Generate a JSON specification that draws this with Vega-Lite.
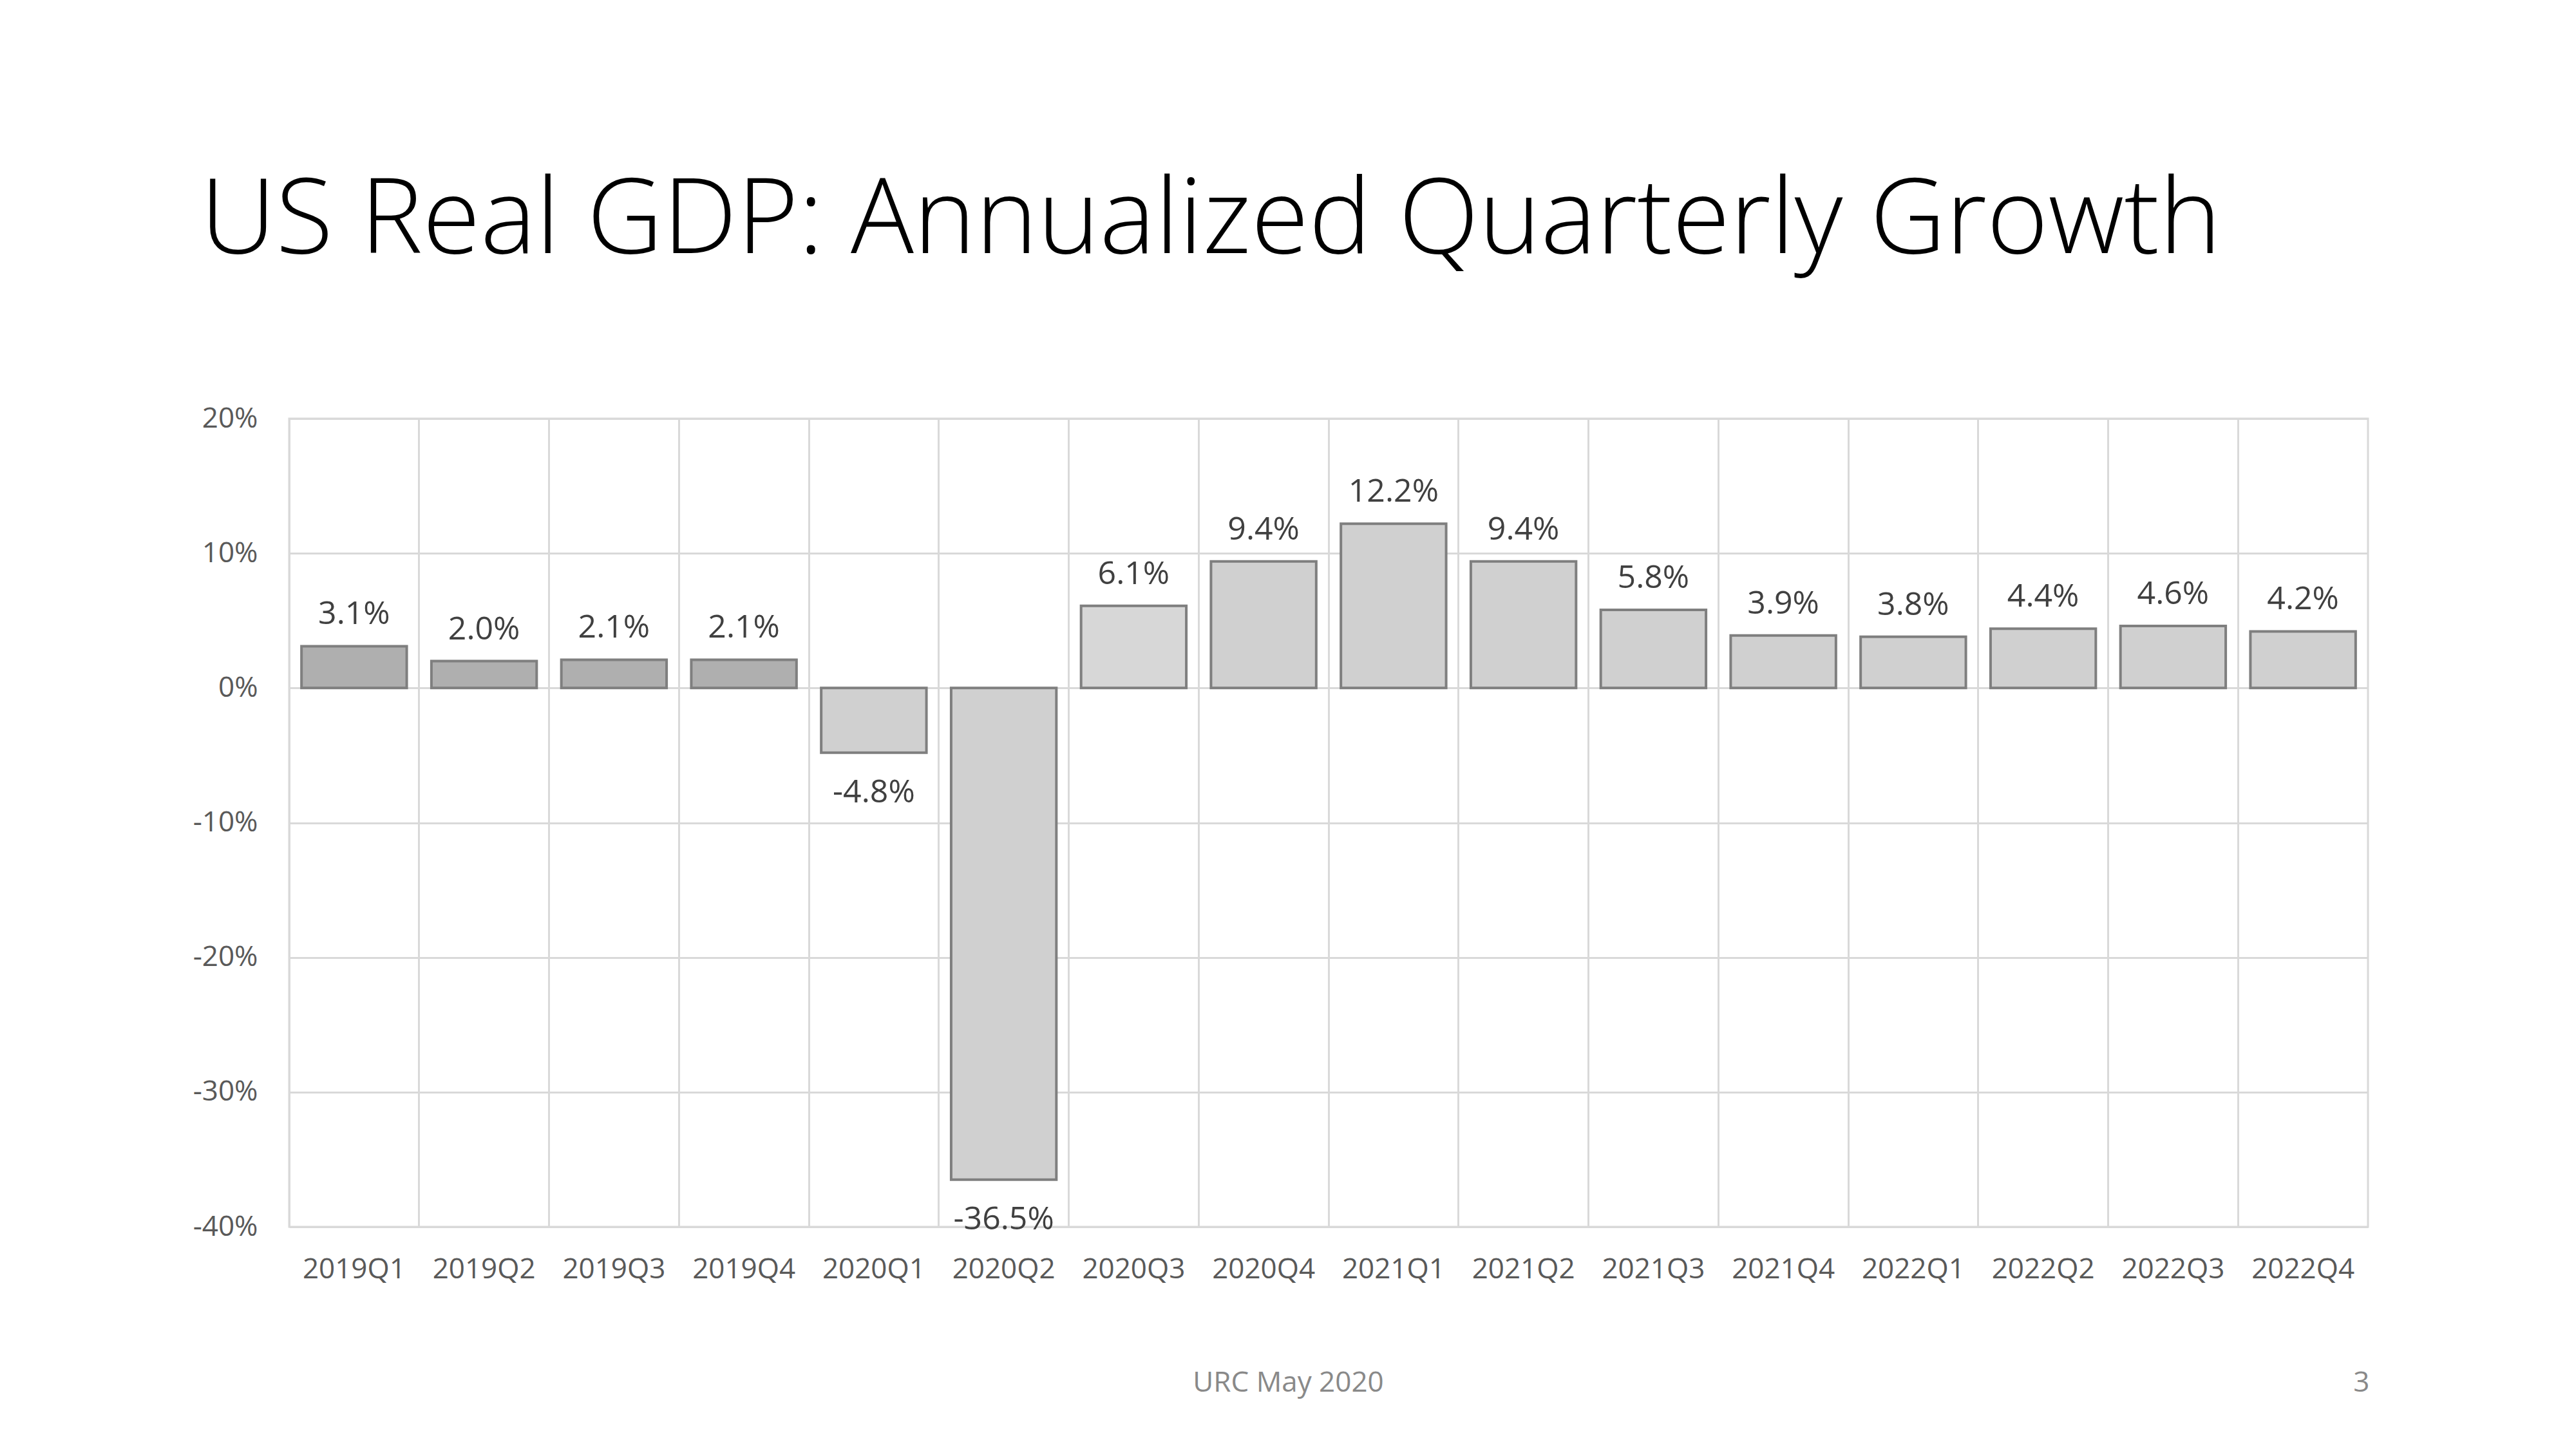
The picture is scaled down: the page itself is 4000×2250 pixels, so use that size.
{
  "$schema": "https://vega.github.io/schema/vega-lite/v6.json",
  "width": 3228,
  "height": 1255,
  "autosize": {"type": "none"},
  "padding": {"left": 449, "top": 650, "right": 323, "bottom": 345},
  "background": "white",
  "title": {
    "text": "US Real GDP: Annualized Quarterly Growth",
    "anchor": "start",
    "frame": "group",
    "dx": -138,
    "offset": 72,
    "baseline": "alphabetic",
    "font": "Open Sans",
    "fontWeight": 300,
    "fontSize": 163,
    "color": "#000000"
  },
  "config": {
    "view": {"stroke": "#d9d9d9", "strokeWidth": 3},
    "axis": {
      "labelFont": "Open Sans",
      "labelFontSize": 44,
      "labelColor": "#595959",
      "titleFont": "Open Sans",
      "titleFontSize": 44,
      "titleFontWeight": "normal",
      "titleColor": "#898989",
      "gridColor": "#d9d9d9",
      "gridWidth": 3,
      "domain": false,
      "ticks": false
    }
  },
  "data": {
    "values": [
      {"q": "2019Q1", "g": 3.1},
      {"q": "2019Q2", "g": 2.0},
      {"q": "2019Q3", "g": 2.1},
      {"q": "2019Q4", "g": 2.1},
      {"q": "2020Q1", "g": -4.8},
      {"q": "2020Q2", "g": -36.5},
      {"q": "2020Q3", "g": 6.1},
      {"q": "2020Q4", "g": 9.4},
      {"q": "2021Q1", "g": 12.2},
      {"q": "2021Q2", "g": 9.4},
      {"q": "2021Q3", "g": 5.8},
      {"q": "2021Q4", "g": 3.9},
      {"q": "2022Q1", "g": 3.8},
      {"q": "2022Q2", "g": 4.4},
      {"q": "2022Q3", "g": 4.6},
      {"q": "2022Q4", "g": 4.2}
    ]
  },
  "transform": [
    {"calculate": "replace(format(datum.g, '.1f'), '\u2212', '-') + '%'", "as": "label"}
  ],
  "encoding": {
    "x": {
      "field": "q",
      "type": "nominal",
      "sort": null,
      "scale": {"padding": 0},
      "axis": {
        "title": "URC May 2020",
        "labelAngle": 0,
        "labelPadding": 44,
        "grid": true,
        "bandPosition": 0,
        "titleX": 1551,
        "titleY": 242,
        "titleAnchor": null,
        "titleAlign": "center",
        "titleBaseline": "middle"
      }
    },
    "y": {
      "field": "g",
      "type": "quantitative",
      "scale": {"domain": [-40, 20], "nice": false, "zero": false},
      "axis": {
        "title": "3",
        "values": [-40, -30, -20, -10, 0, 10, 20],
        "labelExpr": "datum.value + '%'",
        "labelPadding": 49,
        "titleAngle": 0,
        "titleX": 3230,
        "titleY": 1497,
        "titleAlign": "right",
        "titleBaseline": "middle",
        "titleAnchor": null
      }
    }
  },
  "layer": [
    {
      "mark": {"type": "bar", "width": {"band": 0.81}, "stroke": "#7f7f7f", "strokeWidth": 4},
      "encoding": {
        "fill": {
          "condition": [
            {"test": "indexof(datum.q, '2019') == 0", "value": "#afafaf"},
            {"test": "datum.q == '2020Q3'", "value": "#d7d7d7"}
          ],
          "value": "#d0d0d0"
        }
      }
    },
    {
      "transform": [{"filter": "datum.g >= 0"}],
      "mark": {"type": "text", "font": "Open Sans", "fontSize": 50, "color": "#404040", "baseline": "alphabetic", "dy": -34},
      "encoding": {"text": {"field": "label"}}
    },
    {
      "transform": [{"filter": "datum.g < 0"}],
      "mark": {"type": "text", "font": "Open Sans", "fontSize": 50, "color": "#404040", "baseline": "alphabetic", "dy": 77},
      "encoding": {"text": {"field": "label"}}
    }
  ]
}
